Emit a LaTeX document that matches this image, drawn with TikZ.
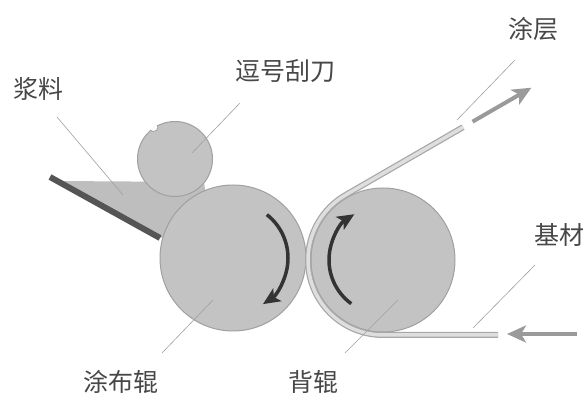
\documentclass[tikz,border=0pt]{standalone}
\usepackage{fontspec}
\newfontfamily\cjk{Noto Sans CJK SC}
\usetikzlibrary{arrows.meta,calc}

\definecolor{rollfill}{HTML}{C3C3C3}
\definecolor{rolledge}{HTML}{A0A0A0}
\definecolor{troughfill}{HTML}{BEBEBE}
\definecolor{bladecol}{HTML}{555555}
\definecolor{webedge}{HTML}{A8A8A8}
\definecolor{webfill}{HTML}{DEDEDE}
\definecolor{flowcol}{HTML}{9A9A9A}
\definecolor{spincol}{HTML}{333333}
\definecolor{labelcol}{HTML}{474747}
\definecolor{leadcol}{HTML}{A0A0A0}

\begin{document}
\begin{tikzpicture}[x=1pt,y=1pt,
  roll/.style={circle,fill=rollfill,draw=rolledge,line width=1pt,inner sep=0pt},
  lbl/.style={font=\cjk\fontsize{25}{28}\selectfont,text=labelcol,inner sep=0pt},
  leader/.style={draw=leadcol,line width=0.6pt},
  spin/.style={draw=spincol,line width=3.5pt,-{Stealth[length=17pt,width=15pt,inset=4pt]}},
  flow/.style={draw=flowcol,line width=4pt,-{Stealth[length=19pt,width=17pt,inset=5pt]}},
  web/.style={draw=webfill,line width=3.5pt,preaction={draw=webedge,line width=6pt}},
]
\useasboundingbox (0,0) rectangle (587,401);

% slurry trough between blade and rolls
\fill[troughfill] (56,220) -- (204,219) -- (206,205) -- (170,165) -- (160,163) -- cycle;

% coating roll and comma-knife roll
\node[roll,minimum size=146pt] (C) at (233,143) {};
\node[roll,minimum size=75pt] (K) at (175,242) {};
\begin{scope}
  \clip (K.center) circle (38.2);
  \fill[white,draw=rolledge,line width=0.8pt] ($(K.center)+(124:38.5)$) circle (4.5);
\end{scope}

% back roll
\node[roll,minimum size=144pt] (B) at (383,141) {};

% doctor blade of the trough
\coordinate (bladetop) at (50,224);
\coordinate (bladeend) at (160,163);
\draw[bladecol,line width=6pt] (bladetop) -- (bladeend);

% substrate web wrapped round the back roll
\coordinate (webin) at (498,66);
\draw[web] (webin) -- ($(B.center)+(0,-75)$)
  arc[start angle=270,end angle=120,radius=75] -- ++(30:135.7) coordinate (webout);

% transport arrows
\draw[flow] ($(webout)+(30:11)$) -- ++(30:68);
\coordinate (feedtail) at (577,67);
\draw[flow] (feedtail) -- (507,67);

% roll rotation
\draw[spin] ($(C.center)+(52:55)$) arc[start angle=52,end angle=-57,radius=55];
\draw[spin] ($(B.center)+(234:54)$) arc[start angle=234,end angle=122,radius=54];

% labels
\node[lbl] (slurry) at (38,312) {浆料};
\node[lbl] (knife) at (285,330) {逗号刮刀};
\node[lbl] (coat) at (533,372) {涂层};
\node[lbl] (base) at (559,166) {基材};
\node[lbl] (croll) at (121,19) {涂布辊};
\node[lbl] (broll) at (313,19) {背辊};

% leader lines
\coordinate (slurryA) at (57,284);  \coordinate (slurryB) at (123,206);
\coordinate (knifeA) at (240,298);  \coordinate (knifeB) at (192,248);
\coordinate (coatA) at (515,341);   \coordinate (coatB) at (457,281);
\coordinate (baseA) at (535,136);   \coordinate (baseB) at (473,73);
\coordinate (crollA) at (162,48);   \coordinate (crollB) at (213,101);
\coordinate (brollA) at (345,48);   \coordinate (brollB) at (398,101);
\draw[leader] (slurryA) -- (slurryB);
\draw[leader] (knifeA) -- (knifeB);
\draw[leader] (coatA) -- (coatB);
\draw[leader] (baseA) -- (baseB);
\draw[leader] (crollA) -- (crollB);
\draw[leader] (brollA) -- (brollB);
\end{tikzpicture}
\end{document}
